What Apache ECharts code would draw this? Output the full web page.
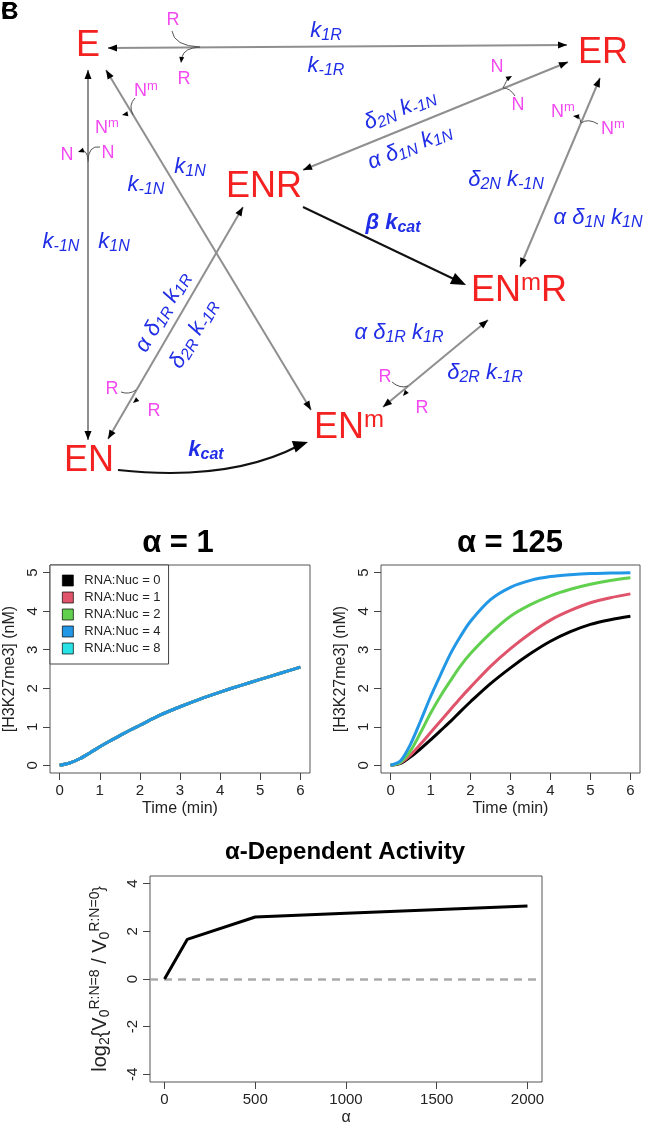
<!DOCTYPE html>
<html>
<head>
<meta charset="utf-8">
<script src="https://cdn.jsdelivr.net/npm/echarts@6/dist/echarts.min.js"></script>
<style>
html, body { margin: 0; padding: 0; background: #fff; }
#main { width: 653px; height: 1124px; }
</style>
</head>
<body>
<div id="main"></div>
<script>
const FONT = '"Liberation Sans", Arial, Helvetica, sans-serif';

// ---- data ----
const timeMin = [0, 0.25, 0.5, 0.75, 1, 1.25, 1.5, 1.75, 2, 2.5, 3, 3.5, 4, 4.5, 5, 5.5, 6];
// alpha = 1 : every RNA:Nuc ratio gives the same curve
const alpha1Curve = [0, 0.06, 0.17, 0.32, 0.48, 0.63, 0.77, 0.91, 1.04, 1.30, 1.52, 1.72, 1.90, 2.07, 2.23, 2.39, 2.55];
// alpha = 125
const a125Nuc0 = [0, 0.05, 0.22, 0.43, 0.66, 0.90, 1.14, 1.40, 1.65, 2.12, 2.53, 2.90, 3.22, 3.47, 3.66, 3.78, 3.87];
const a125Nuc1 = [0, 0.06, 0.27, 0.55, 0.85, 1.15, 1.45, 1.75, 2.03, 2.57, 3.03, 3.43, 3.77, 4.02, 4.22, 4.35, 4.45];
const a125Nuc2 = [0, 0.08, 0.38, 0.85, 1.35, 1.80, 2.20, 2.58, 2.90, 3.43, 3.87, 4.17, 4.40, 4.57, 4.70, 4.80, 4.87];
const a125Nuc4 = [0, 0.12, 0.55, 1.15, 1.78, 2.35, 2.90, 3.35, 3.74, 4.30, 4.62, 4.80, 4.90, 4.95, 4.98, 4.99, 5.00];
const nucNames = ['RNA:Nuc = 0', 'RNA:Nuc = 1', 'RNA:Nuc = 2', 'RNA:Nuc = 4', 'RNA:Nuc = 8'];
const nucColors = ['#000000', '#DF536B', '#61D04F', '#2297E6', '#28E2E5'];

const alphaValues = [0, 125, 500, 1000, 2000];
const log2Ratio = [0, 1.66, 2.60, 2.76, 3.06];

const timeTicks = [0, 1, 2, 3, 4, 5, 6];
const concTicks = [0, 1, 2, 3, 4, 5];
const alphaTicks = [0, 500, 1000, 1500, 2000];
const ratioTicks = [-4, -2, 0, 2, 4];

function pairs(xs, ys) { return xs.map((x, i) => [x, ys[i]]); }

// ---- reaction scheme (drawn with graphic elements) ----
const RED = '#f42121', BLUE = '#1f2de6', MAG = '#f24af0', GREY = '#8f8f8f';
const rich = {
  n: { fontSize: 36, fill: RED, fontFamily: FONT, lineHeight: 40 },
  nm: { fontSize: 24, fill: RED, fontFamily: FONT, verticalAlign: 'top', lineHeight: 24 },
  k: { fontSize: 22, fill: BLUE, fontStyle: 'italic', fontFamily: FONT, lineHeight: 25 },
  ks: { fontSize: 16, fill: BLUE, fontStyle: 'italic', fontFamily: FONT, verticalAlign: 'bottom', lineHeight: 16 },
  b: { fontSize: 22, fill: BLUE, fontStyle: 'italic', fontWeight: 'bold', fontFamily: FONT, lineHeight: 25 },
  bs: { fontSize: 16, fill: BLUE, fontStyle: 'italic', fontWeight: 'bold', fontFamily: FONT, verticalAlign: 'bottom', lineHeight: 16 },
  r: { fontSize: 18, fill: MAG, fontFamily: FONT, lineHeight: 22 },
  rs: { fontSize: 13, fill: MAG, fontFamily: FONT, verticalAlign: 'top', lineHeight: 13 },
  t: { fontSize: 31, fill: '#000', fontWeight: 'bold', fontFamily: FONT },
  t2: { fontSize: 24, fill: '#000', fontWeight: 'bold', fontFamily: FONT }
};

function label(x, y, text, deg) {
  return {
    type: 'text', x: x, y: y, rotation: (deg || 0) * Math.PI / 180, silent: true,
    style: { text: text, rich: rich, x: 0, y: 0, align: 'center', verticalAlign: 'middle',
             textAlign: 'center', textVerticalAlign: 'middle' }
  };
}
function seg(x1, y1, x2, y2, color, w) {
  return { type: 'line', silent: true, shape: { x1: x1, y1: y1, x2: x2, y2: y2 },
           style: { stroke: color, lineWidth: w } };
}
function head(tx, ty, fx, fy, len, wid, color) {
  const a = Math.atan2(ty - fy, tx - fx);
  const bx = tx - len * Math.cos(a), by = ty - len * Math.sin(a);
  const px = -Math.sin(a) * wid, py = Math.cos(a) * wid;
  return { type: 'polygon', silent: true, shape: { points: [[tx, ty], [bx + px, by + py], [bx - px, by - py]] },
           style: { fill: color || '#000' } };
}
function twoWay(x1, y1, x2, y2) {
  return [seg(x1, y1, x2, y2, GREY, 2), head(x1, y1, x2, y2, 9, 3.5), head(x2, y2, x1, y1, 9, 3.5)];
}
function hook(x1, y1, cx, cy, x2, y2) {
  return { type: 'bezierCurve', silent: true, shape: { x1: x1, y1: y1, cpx1: cx, cpy1: cy, x2: x2, y2: y2 },
           style: { stroke: '#555', lineWidth: 1, fill: null } };
}

const scheme = [].concat(
  twoWay(108, 48, 567, 45),      // E <-> ER
  twoWay(303, 170, 568, 62),     // ENR <-> ER
  twoWay(88, 70, 88, 440),       // E <-> EN
  twoWay(106, 70, 311, 410),     // E <-> ENm
  twoWay(108, 439, 243, 207),    // EN <-> ENR
  twoWay(600, 78, 520, 267),     // ER <-> ENmR
  twoWay(383, 407, 488, 320),    // ENm <-> ENmR
  [
    seg(303, 207, 458, 281, '#111', 2), head(466, 285, 303, 207, 15, 6, '#000'),
    { type: 'bezierCurve', silent: true, shape: { x1: 118, y1: 470, cpx1: 230, cpy1: 482, x2: 300, y2: 445 },
      style: { stroke: '#111', lineWidth: 2, fill: null } },
    head(308, 442, 260, 458, 15, 6, '#000'),
    // little R / N release hooks
    hook(172, 31, 174, 46, 200, 47), hook(200, 47, 184, 48, 182, 57), head(181, 63, 182, 55, 6, 2.5),
    hook(100, 147, 88, 145, 88, 162), hook(88, 160, 87, 150, 82, 151), head(78, 152, 84, 150, 6, 2.5),
    hook(135, 98, 128, 105, 133, 115), head(122, 115, 131, 113, 6, 2.5),
    hook(515, 96, 510, 88, 503, 88), hook(503, 88, 507, 80, 508, 78), head(512, 76, 505, 80, 6, 2.5),
    hook(598, 124, 588, 118, 581, 123), hook(581, 123, 579, 115, 578, 116), head(573, 116, 580, 117, 6, 2.5),
    hook(121, 392, 129, 395, 136, 390), head(133, 403, 139, 398, 6, 2.5),
    hook(392, 382, 400, 389, 408, 386), head(403, 396, 408, 390, 6, 2.5),
    // species
    label(88, 46, '{n|E}'),
    label(603, 53, '{n|ER}'),
    label(264, 187, '{n|ENR}'),
    label(519, 291, '{n|EN}{nm|m}{n|R}'),
    label(89, 461, '{n|EN}'),
    label(349, 428, '{n|EN}{nm|m}'),
    // rate constants
    label(326, 31, '{k|k}{ks|1R}'),
    label(326, 66, '{k|k}{ks|-1R}'),
    label(61, 242, '{k|k}{ks|-1N}'),
    label(114, 242, '{k|k}{ks|1N}'),
    label(190, 167, '{k|k}{ks|1N}'),
    label(146, 185, '{k|k}{ks|-1N}'),
    label(400, 110, '{k|δ}{ks|2N}{k| k}{ks|-1N}', 22),
    label(410, 147, '{k|α δ}{ks|1N}{k| k}{ks|1N}', 22),
    label(506, 180, '{k|δ}{ks|2N}{k| k}{ks|-1N}'),
    label(598, 218, '{k|α δ}{ks|1N}{k| k}{ks|1N}'),
    label(163, 312, '{k|α δ}{ks|1R}{k| k}{ks|1R}', 60),
    label(194, 334, '{k|δ}{ks|2R}{k| k}{ks|-1R}', 60),
    label(399, 333, '{k|α δ}{ks|1R}{k| k}{ks|1R}'),
    label(485, 373, '{k|δ}{ks|2R}{k| k}{ks|-1R}'),
    label(393, 223, '{b|β k}{bs|cat}'),
    label(206, 450, '{b|k}{bs|cat}'),
    // released / bound ligands
    label(173, 20, '{r|R}'), label(184, 79, '{r|R}'),
    label(107, 128, '{r|N}{rs|m}'), label(67, 155, '{r|N}'), label(108, 153, '{r|N}'),
    label(146, 91, '{r|N}{rs|m}'),
    label(497, 67, '{r|N}'), label(518, 105, '{r|N}'),
    label(563, 112, '{r|N}{rs|m}'), label(613, 129, '{r|N}{rs|m}'),
    label(112, 389, '{r|R}'), label(154, 411, '{r|R}'),
    label(385, 377, '{r|R}'), label(422, 408, '{r|R}'),
    // panel titles
    label(178, 543, '{t|α = 1}'),
    label(510, 543, '{t|α = 125}'),
    label(345, 852, '{t2|α-Dependent Activity}'),
    { type: 'text', left: 1, top: 0, silent: true,
      style: { text: 'B', fill: '#000', font: 'bold 24px ' + FONT } },
    { type: 'text', left: 1, top: 0, silent: true,
      style: { text: 'C', fill: '#000', font: 'bold 24px ' + FONT } }
  ]
);

// ---- axes helpers ----
function plain(v) { return String(v); }
function xAx(grid, min, max, ticks, name) {
  return {
    gridIndex: grid, type: 'value', min: min, max: max,
    axisLine: { show: false, onZero: false }, splitLine: { show: false },
    axisTick: { show: true, customValues: ticks, length: 7, lineStyle: { color: '#444' } },
    axisLabel: { customValues: ticks, fontSize: 15, color: '#222', margin: 10, fontFamily: FONT, formatter: plain },
    name: name, nameLocation: 'middle', nameGap: 28, nameMoveOverlap: false,
    nameTextStyle: { fontSize: 16, color: '#222', fontFamily: FONT }
  };
}
function yAx(grid, min, max, ticks, name, gap, rich2) {
  return {
    gridIndex: grid, type: 'value', min: min, max: max,
    axisLine: { show: false, onZero: false }, splitLine: { show: false },
    axisTick: { show: true, customValues: ticks, length: 7, lineStyle: { color: '#444' } },
    axisLabel: { customValues: ticks, fontSize: 15, color: '#222', margin: 10, rotate: 90, fontFamily: FONT, formatter: plain },
    name: name, nameLocation: 'middle', nameGap: gap, nameRotate: 90, nameMoveOverlap: false,
    nameTextStyle: { fontSize: 16, color: '#222', fontFamily: FONT, rich: rich2 }
  };
}
function box(left, top, width, height) {
  return { left: left, top: top, width: width, height: height, show: true, borderColor: '#555',
           borderWidth: 1, backgroundColor: 'transparent', containLabel: false, outerBoundsMode: 'none' };
}

const nameRich = {
  t: { fontSize: 20, color: '#222', fontFamily: FONT, lineHeight: 24 },
  sb: { fontSize: 14, color: '#222', fontFamily: FONT, verticalAlign: 'bottom', lineHeight: 14 },
  sp: { fontSize: 14, color: '#222', fontFamily: FONT, verticalAlign: 'top', lineHeight: 14 }
};

const series = [];
for (let i = 0; i < 4; i++) {
  series.push({
    name: nucNames[i], type: 'line', xAxisIndex: 0, yAxisIndex: 0, smooth: 0.3, showSymbol: false,
    data: pairs(timeMin, alpha1Curve), z: 2 + i,
    itemStyle: { color: nucColors[i] }, lineStyle: { color: nucColors[i], width: 3 }
  });
}
series.push({ name: nucNames[4], type: 'line', xAxisIndex: 0, yAxisIndex: 0, data: [],
  itemStyle: { color: nucColors[4] }, lineStyle: { color: nucColors[4], width: 3 } });
[a125Nuc0, a125Nuc1, a125Nuc2, a125Nuc4].forEach((arr, i) => {
  series.push({
    name: nucNames[i], type: 'line', xAxisIndex: 1, yAxisIndex: 1, smooth: 0.3, showSymbol: false,
    data: pairs(timeMin, arr), z: 2 + i,
    itemStyle: { color: nucColors[i] }, lineStyle: { color: nucColors[i], width: 3 }
  });
});
series.push({
  name: 'ratio', type: 'line', xAxisIndex: 2, yAxisIndex: 2, showSymbol: false,
  data: pairs(alphaValues, log2Ratio), z: 5,
  itemStyle: { color: '#000' }, lineStyle: { color: '#000', width: 3 },
  markLine: {
    silent: true, symbol: 'none', label: { show: false }, animation: false,
    lineStyle: { color: '#aaa', width: 2.5, type: [8, 6] },
    data: [{ yAxis: 0 }]
  }
});

const chart = echarts.init(document.getElementById('main'));
chart.setOption({
  animation: false,
  backgroundColor: '#fff',
  textStyle: { fontFamily: FONT },
  graphic: { elements: scheme },
  grid: [box(50, 565, 260, 208), box(381, 565, 259, 208), box(150, 876, 392, 206)],
  xAxis: [
    xAx(0, -0.24, 6.24, timeTicks, 'Time (min)'),
    xAx(1, -0.24, 6.24, timeTicks, 'Time (min)'),
    xAx(2, -80, 2080, alphaTicks, 'α')
  ],
  yAxis: [
    yAx(0, -0.2, 5.2, concTicks, '[H3K27me3] (nM)', 32),
    yAx(1, -0.2, 5.2, concTicks, '[H3K27me3] (nM)', 32),
    yAx(2, -4.32, 4.32, ratioTicks, '{t|log}{sb|2}{t|{V}{sb|0}{sp|R:N=8}{t| / V}{sb|0}{sp|R:N=0}{t|\u007d}', 38, nameRich)
  ],
  legend: {
    data: nucNames, orient: 'vertical', left: 50, top: 565, icon: 'rect',
    itemWidth: 11, itemHeight: 11, itemGap: 4, padding: [9, 8, 9, 12],
    borderColor: '#444', borderWidth: 1, backgroundColor: '#fff',
    itemStyle: { borderColor: '#000', borderWidth: 0.7 },
    textStyle: { fontSize: 13, color: '#222', fontFamily: FONT, padding: [0, 0, 0, 6] },
    selectedMode: false
  },
  series: series
});
</script>
</body>
</html>
